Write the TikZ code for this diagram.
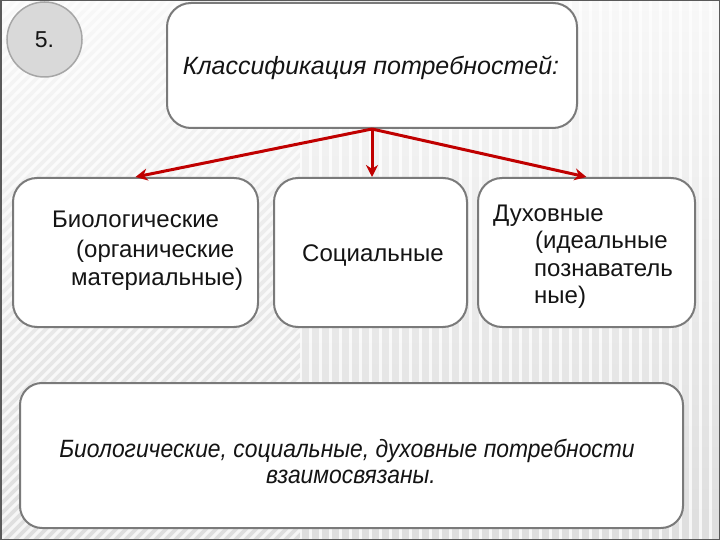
\documentclass[tikz,border=0pt]{standalone}
\usepackage{fontspec}
\setmainfont{Liberation Sans}
\newfontfamily\narrowsans[FakeStretch=0.915]{Liberation Sans}
\usetikzlibrary{arrows.meta}
\definecolor{bgtop}{HTML}{F8F8F8}
\definecolor{bgbot}{HTML}{DEDEDE}
\definecolor{framec}{HTML}{5A5A5A}
\definecolor{boxline}{HTML}{7A7A7A}
\definecolor{circfill}{HTML}{D9D9D9}
\definecolor{circline}{HTML}{A6A6A6}
\definecolor{arrowred}{HTML}{C00000}
\definecolor{textc}{HTML}{141414}
\tikzset{
  stripe/.style={white, opacity=0.75, line width=3pt},
  roundbox/.style={draw=boxline, fill=white, line width=2pt, rounded corners=24pt, inner sep=0pt},
  txt/.style={text=textc, inner sep=0pt, font=\fontsize{24}{29}\selectfont},
  ttl/.style={text=textc, inner sep=0pt, font=\fontsize{25}{30}\selectfont\itshape},
  btxt/.style={text=textc, inner sep=0pt, font=\narrowsans\fontsize{25}{30}\selectfont\itshape},
  redarrow/.style={draw=arrowred, line width=3pt, -{Stealth[length=12pt,width=12pt]}}
}
\begin{document}
\begin{tikzpicture}[x=1pt,y=-1pt]
\useasboundingbox (0,0) rectangle (720,540);
% background
\shade[top color=bgtop, bottom color=bgbot] (0,0) rectangle (720,540);
\begin{scope}
  \clip (0,0) rectangle (300,540);
  \foreach \i in {0,10,...,900} \draw[stripe] (\i-540,540) -- (\i,0);
\end{scope}
\begin{scope}
  \clip (300,0) rectangle (720,540);
  \foreach \i in {300,310,...,720} \draw[stripe] (\i,0) -- (\i,540);
\end{scope}
\draw[framec, line width=1.5pt] (0.75,0.75) rectangle (719.25,539.25);

% number circle
\node[circle, minimum size=75pt, fill=circfill, draw=circline, line width=1.5pt, inner sep=0pt,
      text=textc, font=\fontsize{23}{27}\selectfont] (num) at (44.5,39.5) {5.};

% boxes
\node[roundbox, minimum width=410pt, minimum height=125pt] (top) at (372,65.5) {};
\node[roundbox, minimum width=245pt, minimum height=149pt] (b1) at (135.5,252.5) {};
\node[roundbox, minimum width=193pt, minimum height=149pt] (b2) at (370.5,252.5) {};
\node[roundbox, minimum width=217pt, minimum height=149pt] (b3) at (586.5,252.5) {};
\node[roundbox, minimum width=663pt, minimum height=145pt, rounded corners=22pt] (b4) at (351.5,455.5) {};

% texts
\node[ttl, anchor=base] (ttext) at (371,75) {Классификация потребностей:};

\node[txt, anchor=base west] (t1a) at (52,227) {Биологические};
\node[txt, anchor=base west] (t1b) at (76,257) {(органические};
\node[txt, anchor=base west] (t1c) at (71,285) {материальные)};

\node[txt, anchor=base west] (t2) at (302,261) {Социальные};

\node[txt, anchor=base west] (t3a) at (493,222) {Духовные};
\node[txt, anchor=base west] (t3b) at (535,248) {(идеальные};
\node[txt, anchor=base west] (t3c) at (534,276) {познаватель};
\node[txt, anchor=base west] (t3d) at (534,303) {ные)};

\node[btxt, anchor=base] (t4a) at (347,457) {Биологические, социальные, духовные потребности};
\node[btxt, anchor=base] (t4b) at (351,483) {взаимосвязаны.};

% arrows
\draw[redarrow] (top.south) -- (b1.north);
\draw[redarrow] (top.south) -- (top.south |- b2.north);
\draw[redarrow] (top.south) -- (b3.north);
\end{tikzpicture}
\end{document}
